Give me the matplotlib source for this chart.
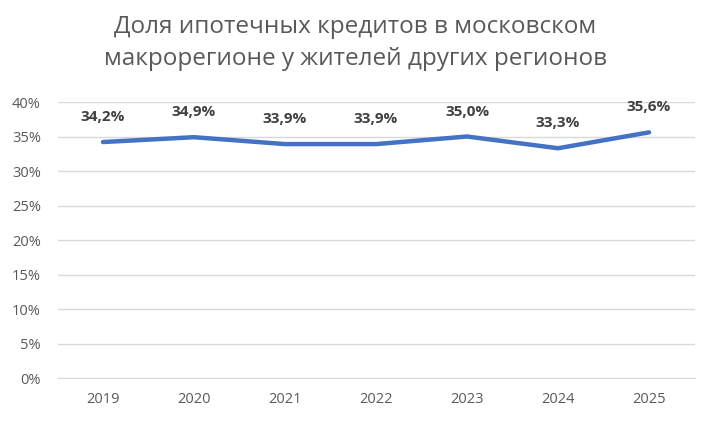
import matplotlib.pyplot as plt
import numpy as np

years = ['2019', '2020', '2021', '2022', '2023', '2024', '2025']
share = [34.2, 34.9, 33.9, 33.9, 35.0, 33.3, 35.6]
yticks = [0, 5, 10, 15, 20, 25, 30, 35, 40]

plt.rcParams['font.family'] = ['Open Sans', 'DejaVu Sans']

fig = plt.figure(figsize=(7.11, 4.21), dpi=100)
ax = fig.add_axes([0.0809, 0.1021, 0.8959, 0.6556])

x = np.arange(len(years))
ax.plot(x, share, color='#4472C4', linewidth=3.2, solid_capstyle='round')

for xi, v in zip(x, share):
    ax.annotate(f'{v:.1f}%'.replace('.', ','), (xi, v), xytext=(0, 18),
                textcoords='offset points', ha='center', va='center',
                fontsize=11, fontweight='bold', color='#404040')

ax.set_xlim(-0.5, len(years) - 0.5)
ax.set_ylim(0, 40)
ax.set_xticks(x)
ax.set_xticklabels(years)
ax.set_yticks(yticks)
ax.set_yticklabels([f'{t}%' for t in yticks])
ax.tick_params(axis='both', length=0, labelsize=10.5, colors='#595959')
ax.tick_params(axis='x', pad=10)
ax.tick_params(axis='y', pad=12)
ax.grid(axis='y', color='#D9D9D9', linewidth=1)
ax.set_axisbelow(True)
for s in ax.spines.values():
    s.set_visible(False)
ax.spines['bottom'].set_visible(True)
ax.spines['bottom'].set_color('#D9D9D9')

fig.text(0.5, 0.965, 'Доля ипотечных кредитов в московском\nмакрорегионе у жителей других регионов',
         ha='center', va='top', fontsize=17.5, color='#595959', linespacing=1.45)

fig.savefig('out.png', dpi=100)
